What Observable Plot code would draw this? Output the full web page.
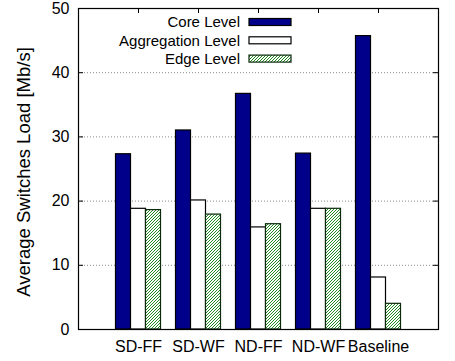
<!DOCTYPE html>
<html><head><meta charset="utf-8">
<script src="https://cdn.jsdelivr.net/npm/d3@7"></script>
<script src="https://cdn.jsdelivr.net/npm/@observablehq/plot@0.6"></script>
<style>
body{margin:0;background:#fff}
#chart{position:relative;width:455px;height:361px}
</style>
</head><body><div id="chart"></div>
<script>
const categories = ["SD-FF", "SD-WF", "ND-FF", "ND-WF", "Baseline"];
const series = ["Core Level", "Aggregation Level", "Edge Level"];
const coreLevel = [27.3, 31.0, 36.7, 27.4, 45.7];
const aggregationLevel = [18.8, 20.1, 15.9, 18.8, 8.1];
const edgeLevel = [18.6, 17.9, 16.4, 18.8, 4.0];
const yTicks = [0, 10, 20, 30, 40, 50];
const gridValues = [10, 20, 30, 40];
const yLabel = "Average Switches Load [Mb/s]";

const seriesValues = [coreLevel, aggregationLevel, edgeLevel];
const fills = ["#00008b", "#ffffff", "url(#hatch)"];
const strokes = ["#000000", "#000000", "#0b2a0b"];
const positions = categories.map((c, i) => i + 1);

const W = 455, H = 361;
const mL = 78, mR = 17, mT = 8, mB = 32;
const innerW = W - mL - mR, innerH = H - mT - mB;
const FONT = "'Liberation Sans', Arial, sans-serif";

const marks = [
  Plot.ruleY(gridValues, {stroke: "#8a8a8a", strokeDasharray: "1,2", strokeWidth: 1}),
  Plot.tickY(yTicks, {y: d => d, insetRight: innerW - 5, stroke: "#000"}),
  Plot.tickY(yTicks, {y: d => d, insetLeft: innerW - 5, stroke: "#000"}),
  Plot.tickX(positions, {x: d => d, insetBottom: innerH - 5, stroke: "#000"}),
  Plot.tickX(positions, {x: d => d, insetTop: innerH - 5, stroke: "#000"})
];
seriesValues.forEach((vals, si) => {
  const rows = categories.map((c, ci) => ({category: c, pos: ci + 1, value: vals[ci]}));
  marks.push(Plot.rectY(rows, {
    x1: d => d.pos - 0.375 + 0.25 * si,
    x2: d => d.pos - 0.125 + 0.25 * si,
    y1: 0, y2: "value",
    fill: fills[si], stroke: strokes[si], strokeWidth: 1.2
  }));
});
marks.push(Plot.frame({stroke: "#000", strokeWidth: 1.2}));
marks.push(Plot.axisY(yTicks, {tickSize: 0, tickPadding: 9, label: null, fontSize: 16}));
marks.push(Plot.axisX(positions, {tickSize: 0, tickPadding: 11, tickFormat: d => categories[d - 1], label: null, fontSize: 16}));

const plot = Plot.plot({
  width: W, height: H,
  marginLeft: mL, marginRight: mR, marginTop: mT, marginBottom: mB,
  style: {fontSize: "16px", fontFamily: FONT, color: "#000", background: "#fff"},
  x: {type: "linear", domain: [0, 6]},
  y: {domain: [0, 50]},
  marks
});

const svg = d3.select(plot);
const defs = svg.insert("defs", ":first-child");
const pat = defs.append("pattern").attr("id", "hatch").attr("patternUnits", "userSpaceOnUse")
  .attr("width", 3).attr("height", 3);
pat.append("rect").attr("width", 3).attr("height", 3).attr("fill", "#fff");
pat.append("path").attr("d", "M-1,1 l2,-2 M0,3 l3,-3 M2,4 l2,-2")
  .attr("stroke", "#248a24").attr("stroke-width", 1);

svg.append("text")
  .attr("transform", "translate(30,172) rotate(-90)")
  .attr("text-anchor", "middle").attr("font-family", FONT).attr("font-size", 18.5)
  .attr("fill", "#000").text(yLabel);

const legend = svg.append("g").attr("font-family", FONT).attr("font-size", 15);
series.forEach((s, i) => {
  const cy = 22 + i * 18.3;
  legend.append("text").attr("x", 240).attr("y", cy).attr("dy", "0.35em")
    .attr("text-anchor", "end").attr("fill", "#000").text(s);
  legend.append("rect").attr("x", 249).attr("y", cy - 3.5).attr("width", 42).attr("height", 7)
    .attr("fill", fills[i]).attr("stroke", strokes[i]).attr("stroke-width", 1.2);
});

document.getElementById("chart").appendChild(plot);
</script>
</body></html>
